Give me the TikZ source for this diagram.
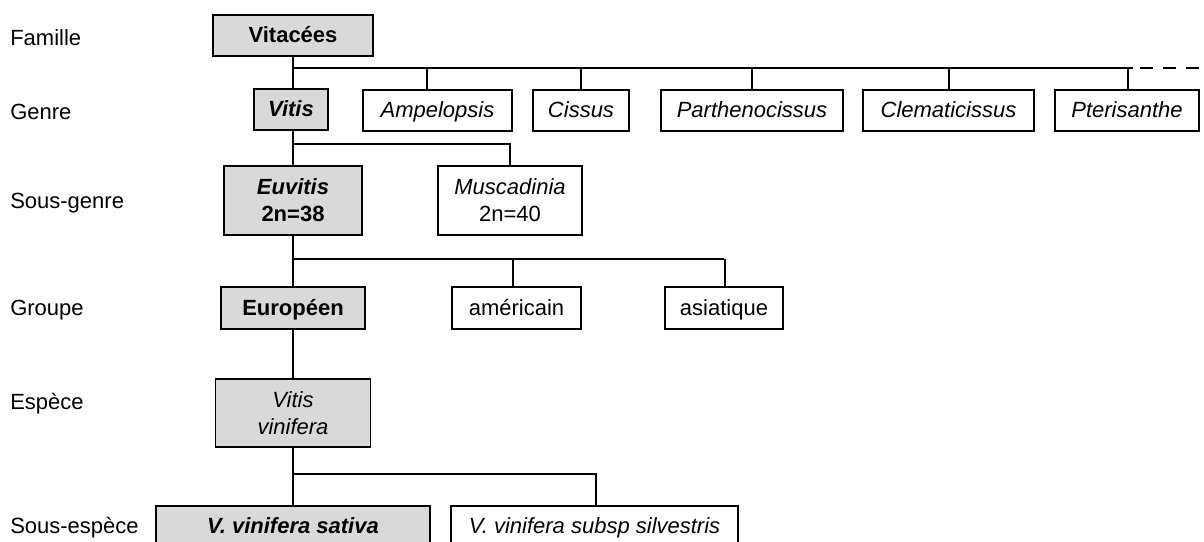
\documentclass[tikz,border=0pt]{standalone}
\usepackage{fontspec}
\setmainfont{Liberation Sans}
\definecolor{boxgrey}{HTML}{D9D9D9}
\begin{document}
\begin{tikzpicture}[x=0.75pt,y=-0.75pt,
  box/.style={draw,line width=1pt,inner sep=0pt,align=center,
    font=\fontsize{16.5}{20.25}\selectfont},
  greybox/.style={box,fill=boxgrey,font=\fontsize{16.5}{20.25}\selectfont\bfseries},
  oneline/.style={text height=12pt,text depth=1pt},
  rank/.style={anchor=west,inner sep=0pt,font=\fontsize{16.5}{20}\selectfont},
  trunk/.style={line width=1.9pt},
  tick/.style={line width=1pt}]
\useasboundingbox (0,0) rectangle (1204,542);

% Rank labels
\node[rank] (famille) at (10,38) {Famille};
\node[rank] (genre) at (10,112) {Genre};
\node[rank] (sousgenre) at (10,203) {Sous-genre};
\node[rank] (groupe) at (10,310) {Groupe};
\node[rank] (espece) at (10,404) {Espèce};
\node[rank] (sousespece) at (10,528) {Sous-espèce};

% Taxa (boxes)
\node[greybox,oneline,minimum width=120pt,minimum height=30.75pt] (vitacees) at (293,35.5) {Vitacées};
\node[greybox,oneline,minimum width=55.5pt,minimum height=30.75pt] (vitis) at (291,109.5) {\itshape Vitis};
\node[box,oneline,minimum width=111.75pt,minimum height=30.75pt] (ampelopsis) at (437.5,110.5) {\itshape Ampelopsis};
\node[box,oneline,minimum width=72pt,minimum height=30.75pt] (cissus) at (581,110.5) {\itshape Cissus};
\node[box,oneline,minimum width=136.5pt,minimum height=30.75pt] (parthenocissus) at (752,110.5) {\itshape Parthenocissus};
\node[box,oneline,minimum width=128.25pt,minimum height=30.75pt] (clematicissus) at (948.5,110.5) {\itshape Clematicissus};
\node[box,oneline,minimum width=108pt,minimum height=30.75pt] (pterisanthe) at (1127,110.5) {\itshape Pterisanthe};
\node[greybox,minimum width=103.5pt,minimum height=51.75pt] (euvitis) at (293,200.5) {\itshape Euvitis\\2n=38};
\node[box,minimum width=108pt,minimum height=51.75pt] (muscadinia) at (510,200.5) {\itshape Muscadinia\\2n=40};
\node[greybox,oneline,minimum width=108pt,minimum height=31.5pt] (europeen) at (293,308) {Européen};
\node[box,oneline,minimum width=96.75pt,minimum height=31.5pt] (americain) at (516.5,308) {américain};
\node[box,oneline,minimum width=88.5pt,minimum height=31.5pt] (asiatique) at (724,308) {asiatique};
\node[greybox,minimum width=116.25pt,minimum height=51pt,font=\fontsize{16.5}{20.25}\selectfont] (vinifera) at (293,413) {\itshape Vitis\\\itshape vinifera};
\node[greybox,oneline,minimum width=205.5pt,minimum height=30pt] (sativa) at (293,526) {\itshape V. vinifera sativa};
\node[box,oneline,minimum width=215.25pt,minimum height=30pt] (silvestris) at (594.5,526) {\itshape V. vinifera subsp silvestris};

% Connectors
\coordinate (genreend) at (1133,68);
\coordinate (dashstart) at (1140,68);
\coordinate (dashend) at (1204,68);
\draw[trunk] (vitacees.south) -- (vitacees.south |- vitis.north);
\draw[trunk] (vitacees.south |- genreend) -- (genreend);
\draw[trunk,dash pattern=on 9.75pt off 7.5pt] (dashstart) -- (dashend);
\foreach \n/\x in {ampelopsis/427,cissus/581,parthenocissus/752,clematicissus/949,pterisanthe/1128}
  \draw[tick] (\x,68) -- (\n.north -| \x,0);

\draw[trunk] (vitis.south -| euvitis.north) -- (euvitis.north);
\draw[trunk] (euvitis.north |- 0,144) -| (muscadinia.north);

\draw[trunk] (euvitis.south) -- (europeen.north);
\draw[trunk] (euvitis.south |- 0,259) -- (asiatique.north |- 0,259);
\foreach \n/\x in {americain/513,asiatique/725}
  \draw[tick] (\x,259) -- (\n.north -| \x,0);

\draw[trunk] (europeen.south) -- (vinifera.north);
\draw[trunk] (vinifera.south) -- (sativa.north);
\draw[trunk] (vinifera.south |- 0,474) -| (silvestris.north -| 596,0);
\end{tikzpicture}
\end{document}
